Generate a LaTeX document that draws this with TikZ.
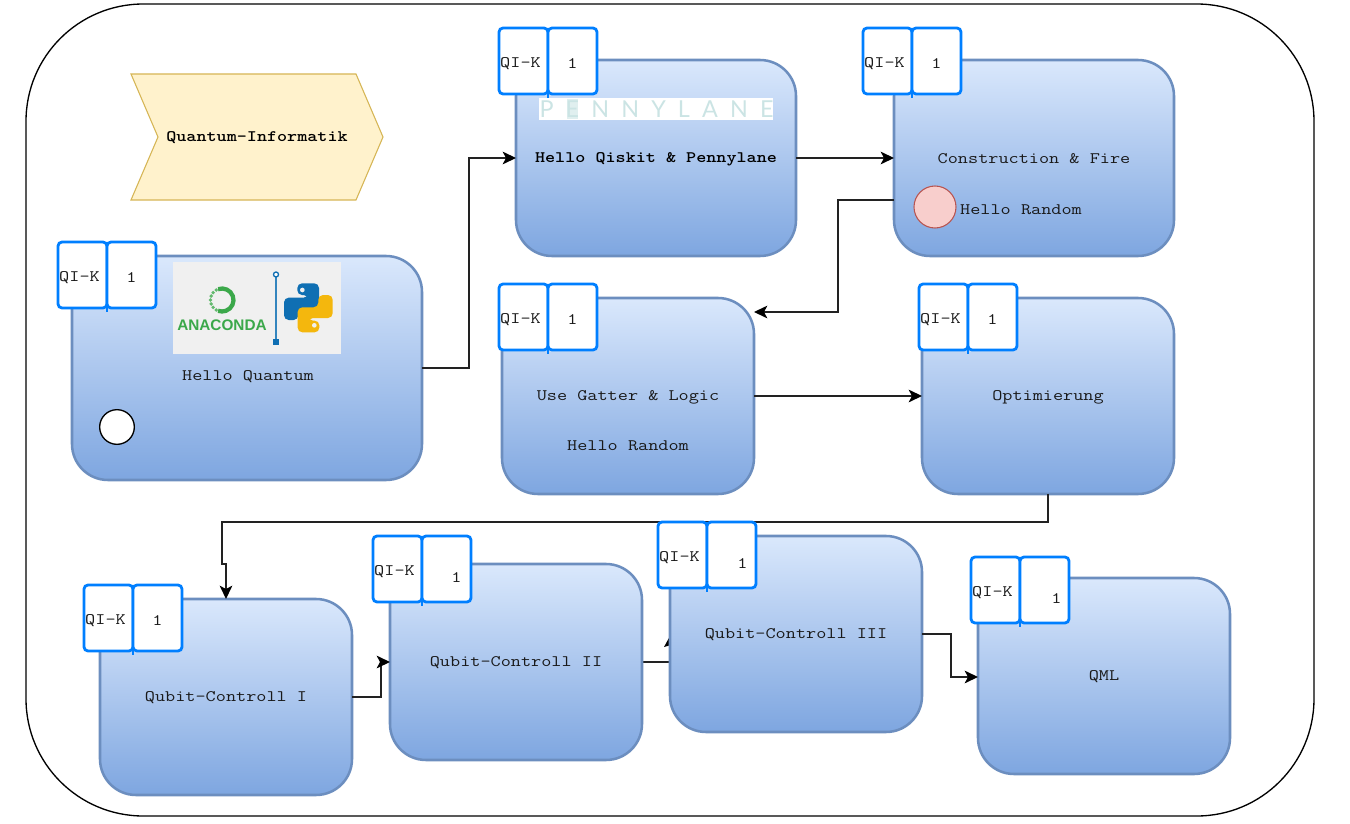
\documentclass[tikz,border=0pt]{standalone}
\usepackage{fontspec}
\setmonofont{Latin Modern Mono}[FakeStretch=1.23,BoldFont={Latin Modern Mono Light/B},BoldFeatures={FakeStretch=1.2}]
\newfontfamily\logofont{Liberation Sans}
\newfontfamily\pennyfont{Lato}[LetterSpace=52]
\usetikzlibrary{arrows.meta,backgrounds}
\definecolor{tabblue}{HTML}{007FFF}
\definecolor{flowgrey}{HTML}{222222}
\definecolor{logogreen}{HTML}{3BA84A}
\definecolor{logoback}{HTML}{F0F0F0}
\definecolor{pyblue}{HTML}{0F6FB3}
\definecolor{pyyellow}{HTML}{F4B70D}
\definecolor{bordercol}{HTML}{6C8EBF}
\definecolor{topcol}{HTML}{DAE8FC}
\definecolor{botcol}{HTML}{7EA6E0}
\definecolor{titlefill}{HTML}{FFF2CC}
\definecolor{titleline}{HTML}{D6B656}
\definecolor{markpink}{HTML}{F8CECC}
\definecolor{markred}{HTML}{B85450}
\definecolor{pennydark}{HTML}{CBE4E4}
\tikzset{
	topicbox/.style 2 args={draw=bordercol,line width=1.9pt,rounded corners=27pt,top color=topcol,bottom color=botcol,
		inner sep=0pt,outer sep=0pt,minimum width=#1*0.75pt,minimum height=#2*0.75pt},
	tabbox/.style={draw=tabblue,line width=2.1pt,rounded corners=3pt,fill=white,inner sep=0pt,outer sep=0pt,minimum width=36.75pt,minimum height=49.5pt},
	boxlabel/.style={font=\ttfamily\fontsize{12}{14}\selectfont,text=black!90,inner sep=0pt,yshift=-0.7pt},
	boldlabel/.style={font=\ttfamily\bfseries\fontsize{12}{14}\selectfont,text=black,inner sep=0pt,yshift=-0.7pt},
	flowline/.style={draw=flowgrey,line width=1.1pt},
	flowarrow/.style={flowline,-{Stealth[length=10pt,width=9.5pt,inset=2.5pt,color=black]}}
}
\begin{document}
\begin{tikzpicture}[x=0.75pt,y=-0.75pt]
	\useasboundingbox (0,0) rectangle (1350,824);

	% title
	\draw[fill=titlefill,draw=titleline,line width=0.8pt]
		(131,74) -- (356,74) -- (383,137) -- (356,200) -- (131,200) -- (158,137) -- cycle;
	\node[boldlabel] (title) at (257,137) {Quantum-Informatik};

	% topics
	\node[topicbox={350}{224}] (hq) at (247,368) {};
	\node[topicbox={280}{196}] (hqp) at (656,158) {};
	\node[topicbox={280}{196}] (cf) at (1034,158) {};
	\node[topicbox={252}{196}] (ugl) at (628,396) {};
	\node[topicbox={252}{196}] (opt) at (1048,396) {};
	\node[topicbox={252}{196}] (qcone) at (226,697) {};
	\node[topicbox={252}{196}] (qctwo) at (516,662) {};
	\node[topicbox={252}{196}] (qcthree) at (796,634) {};
	\node[topicbox={252}{196}] (qml) at (1104,676) {};

	% connectors
	\coordinate (cfout) at (894,200);
	\coordinate (uglin) at (754,312);
	\coordinate (qconetop) at (226,564);
	\coordinate (qctwoin) at (390,662);
	\coordinate (qmlin) at (978,677);
	\draw[flowarrow] (hq.east) -- (469,368) |- (hqp.west);
	\draw[flowarrow] (hqp.east) -- (cf.west);
	\draw[flowarrow] (cfout) -- (838,200) |- (uglin);
	\draw[flowarrow] (ugl.east) -- (opt.west);
	\draw[flowarrow] (opt.south) |- (222,522) |- (qconetop) -- (qcone.north);
	\draw[flowarrow] (qcone.east) -| (381,662) -- (qctwoin);
	\draw[flowarrow] (qcthree.east) -| (951,677) -- (qmlin);
	\begin{scope}[on background layer]
		\fill[white] (0,0) rectangle (1350,824);
		\draw[line width=1pt,rounded corners=88pt] (26,4) rectangle (1314,816);
		\draw[flowline] (qctwo.east) -- (680,662);
		\fill[black] (664,647) -- (670,636) -- (671,645) -- cycle;
	\end{scope}

	% tabs
	\foreach \nm/\tx/\ty/\dx/\dy in {hq/107/275/0/0,hqp/548/61/0/0,cf/912/61/0/0,ugl/548/317/0/0,opt/968/317/0/0,
		qcone/133/618/0/0,qctwo/422/569/10/6,qcthree/707/555/11/6,qml/1020/590/12/6}{
		\node[tabbox] (\nm a) at (\tx-24.5,\ty) {};
		\node[tabbox] (\nm b) at (\tx+24.5,\ty) {};
		\draw[draw=tabblue,line width=2.1pt] (\nm b.north west) -- ++(0,70);
		\node[boxlabel] (\nm k) at (\tx-27.5,\ty+2) {QI-K};
		\node[boxlabel] (\nm n) at (\tx+24.5+\dx,\ty+2+\dy) {1};
	}

	% texts
	\node[boxlabel] (hqtext) at (248,376) {Hello Quantum};
	\node[boldlabel] (hqptext) at (656,158) {Hello Qiskit \& Pennylane};
	\node[boxlabel] (cftext) at (1034,158) {Construction \& Fire};
	\node[boxlabel] (cfrandom) at (1021,209) {Hello Random};
	\node[boxlabel] (ugltext) at (628,396) {Use Gatter \& Logic};
	\node[boxlabel] (uglrandom) at (628,445) {Hello Random};
	\node[boxlabel] (opttext) at (1048,396) {Optimierung};
	\node[boxlabel] (qconetext) at (226,697) {Qubit-Controll I};
	\node[boxlabel] (qctwotext) at (516,662) {Qubit-Controll II};
	\node[boxlabel] (qcthreetext) at (796,634) {Qubit-Controll III};
	\node[boxlabel] (qmltext) at (1104,676) {QML};

	% marks
	\node[draw=black,fill=white,circle,line width=1pt,minimum size=26pt,inner sep=0pt] (startmark) at (117,427) {};
	\node[draw=markred,fill=markpink,circle,line width=0.8pt,minimum size=31.5pt,inner sep=0pt] (randommark) at (935,207) {};

	% pennylane logo
	\fill[white] (539,98) rectangle (773,120);
	\fill[pennydark!60] (567,99) rectangle (578,119);
	\node[font=\pennyfont\fontsize{17.5}{18}\selectfont,text=pennydark,inner sep=0pt] (penny) at (656.5,109) {PENNYLANE};

	% anaconda and python logo
	\fill[logoback] (173,262) rectangle (341,354);
	\draw[logogreen,line width=3.2pt] (222,300) ++(-110:11.5) arc[start angle=-110,end angle=110,radius=11.5];
	\foreach \a in {120,140,...,240}{
		\fill[logogreen!80] (222,300) ++(\a:11.5) circle[radius=1.9];
	}
	\node[font=\logofont\bfseries\fontsize{11.5}{12}\selectfont,text=logogreen,inner sep=0pt] (anaconda) at (222,325) {ANACONDA};
	\draw[pyblue!85,line width=1.1pt] (276,276) -- (276,340);
	\draw[pyblue,fill=white,line width=1pt] (276,274.5) circle[radius=2.5];
	\fill[pyblue] (273,338.5) rectangle (279,344.5);
	\begin{scope}[shift={(270,265)},x=0.25pt,y=-0.25pt]
		\path[fill=pyblue,rounded corners=3.5pt] (82,55) -- (147,55) -- (147,130) -- (85,130) -- (85,165) -- (42,165) -- (42,98)
			-- (115,98) -- (115,90) -- (82,90) -- cycle;
		\path[fill=pyyellow,rounded corners=3.5pt] (148,202) -- (83,202) -- (83,127) -- (145,127) -- (145,90) -- (188,90) -- (188,159)
			-- (115,159) -- (115,167) -- (148,167) -- cycle;
		\fill[logoback] (97,75) circle[radius=7];
		\fill[logoback] (133,181) circle[radius=7];
	\end{scope}
\end{tikzpicture}
\end{document}
